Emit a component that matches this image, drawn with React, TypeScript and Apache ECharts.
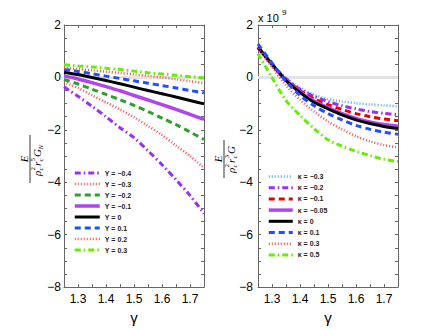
import React, { useEffect, useRef } from 'react';
import * as echarts from 'echarts';

// x values (gamma)
const gammaValues = [1.25, 1.3, 1.35, 1.4, 1.45, 1.5, 1.55, 1.6, 1.65, 1.7, 1.75];
const xTickLabels = [1.3, 1.4, 1.5, 1.6, 1.7];
const xTickMarks = [1.25, 1.3, 1.35, 1.4, 1.45, 1.5, 1.55, 1.6, 1.65, 1.7, 1.75];

// Left panel: E / (rho_c^2 r_c^5 G_N) for several Upsilon
const upsilonNames = ['Υ = −0.4', 'Υ = −0.3', 'Υ = −0.2', 'Υ = −0.1', 'Υ = 0', 'Υ = 0.1', 'Υ = 0.2', 'Υ = 0.3'];
const upsM04 = [-0.36, -0.72, -1.1, -1.5, -1.92, -2.3, -2.8, -3.33, -3.9, -4.5, -5.2];
const upsM03 = [-0.18, -0.4, -0.68, -0.95, -1.22, -1.52, -1.85, -2.2, -2.6, -3.0, -3.45];
const upsM02 = [-0.08, -0.25, -0.45, -0.65, -0.85, -1.07, -1.3, -1.55, -1.8, -2.08, -2.37];
const upsM01 = [0.06, -0.06, -0.2, -0.35, -0.51, -0.69, -0.86, -1.04, -1.22, -1.41, -1.6];
const ups00 = [0.2, 0.11, 0.0, -0.12, -0.24, -0.37, -0.5, -0.62, -0.75, -0.88, -1.01];
const ups01 = [0.3, 0.23, 0.14, 0.05, -0.04, -0.13, -0.22, -0.31, -0.4, -0.5, -0.59];
const ups02 = [0.36, 0.32, 0.27, 0.22, 0.17, 0.12, 0.06, 0.0, -0.07, -0.14, -0.22];
const ups03 = [0.48, 0.44, 0.4, 0.35, 0.3, 0.24, 0.18, 0.13, 0.08, 0.03, -0.02];
const leftValues = [upsM04, upsM03, upsM02, upsM01, ups00, ups01, ups02, ups03];

// Right panel: E / (rho_c^2 r_c^3 G) in units of 1e9 for several kappa
const kappaNames = ['κ = −0.3', 'κ = −0.2', 'κ = −0.1', 'κ = −0.05', 'κ = 0', 'κ = 0.1', 'κ = 0.3', 'κ = 0.5'];
const kapM03 = [1.1, 0.5, -0.02, -0.4, -0.65, -0.83, -0.92, -0.98, -1.03, -1.07, -1.1];
const kapM02 = [1.12, 0.5, -0.05, -0.45, -0.72, -0.92, -1.08, -1.2, -1.3, -1.37, -1.42];
const kapM01 = [1.15, 0.5, -0.08, -0.5, -0.82, -1.04, -1.22, -1.38, -1.5, -1.59, -1.65];
const kapM005 = [1.15, 0.5, -0.1, -0.55, -0.9, -1.15, -1.38, -1.56, -1.7, -1.8, -1.86];
const kap00 = [1.15, 0.5, -0.12, -0.58, -0.95, -1.2, -1.43, -1.62, -1.76, -1.87, -1.95];
const kap01 = [1.27, 0.55, -0.15, -0.68, -1.08, -1.38, -1.62, -1.83, -1.98, -2.09, -2.17];
const kap03 = [1.1, 0.4, -0.3, -0.85, -1.3, -1.68, -1.98, -2.24, -2.44, -2.58, -2.67];
const kap05 = [0.9, 0.0, -0.88, -1.45, -1.95, -2.38, -2.62, -2.82, -2.98, -3.12, -3.21];
const rightValues = [kapM03, kapM02, kapM01, kapM005, kap00, kap01, kap03, kap05];

const zeroLine = [0, 0];
const zeroX = [1.25, 1.75];

const DASHDOT = [6, 3, 1.5, 3];
const DASHED = [6, 4];
const DOTTED = [1, 2];

const leftStyles = [
  { color: '#9b30f0', width: 3, type: DASHDOT },
  { color: '#ff4d4d', width: 2.5, type: DOTTED },
  { color: '#2ca02c', width: 3, type: DASHED },
  { color: '#b044f0', width: 3.5, type: 'solid' },
  { color: '#000000', width: 3, type: 'solid' },
  { color: '#1f4fff', width: 3, type: DASHED },
  { color: '#ff4d4d', width: 2.5, type: DOTTED },
  { color: '#66ee00', width: 3, type: DASHDOT },
];
const rightStyles = [
  { color: '#55aaff', width: 2.5, type: DOTTED },
  { color: '#9b30f0', width: 3, type: DASHDOT },
  { color: '#e80000', width: 3, type: DASHED },
  { color: '#b044f0', width: 3.5, type: 'solid' },
  { color: '#000000', width: 3, type: 'solid' },
  { color: '#1f4fff', width: 3, type: DASHED },
  { color: '#ff4d4d', width: 2.5, type: DOTTED },
  { color: '#66ee00', width: 3, type: DASHDOT },
];

const SANS = 'Liberation Sans, Arial, sans-serif';
const SERIF = 'Liberation Serif, Times New Roman, serif';
const AXIS_COLOR = '#666';

const fmtY = (v: number) => (v < 0 ? '−' + Math.abs(v) : String(v));

function xAxisBottom(gridIndex: number) {
  return {
    type: 'value', gridIndex, min: 1.25, max: 1.75, position: 'bottom',
    axisLine: { show: true, onZero: false, lineStyle: { color: AXIS_COLOR, width: 1 } },
    axisTick: { show: true, inside: true, length: 3, customValues: xTickMarks, lineStyle: { color: AXIS_COLOR } },
    axisLabel: { customValues: xTickLabels, formatter: (v: number) => v.toFixed(1), fontSize: 12, color: '#000', fontFamily: SANS, margin: 6 },
    splitLine: { show: false },
    name: 'γ', nameLocation: 'middle', nameGap: 17,
    nameTextStyle: { fontSize: 15, color: '#000', fontFamily: SANS },
  };
}
function xAxisTop(gridIndex: number) {
  return {
    type: 'value', gridIndex, min: 1.25, max: 1.75, position: 'top',
    axisLine: { show: true, onZero: false, lineStyle: { color: AXIS_COLOR, width: 1 } },
    axisTick: { show: true, inside: true, length: 3, customValues: xTickMarks, lineStyle: { color: AXIS_COLOR } },
    axisLabel: { show: false },
    splitLine: { show: false },
  };
}
function yAxisLeft(gridIndex: number, margin: number) {
  return {
    type: 'value', gridIndex, min: -8, max: 2, interval: 2, position: 'left',
    axisLine: { show: true, onZero: false, lineStyle: { color: AXIS_COLOR, width: 1 } },
    axisTick: { show: true, inside: true, length: 3, lineStyle: { color: AXIS_COLOR } },
    minorTick: { show: true, splitNumber: 4, length: 3, lineStyle: { color: AXIS_COLOR } },
    axisLabel: { formatter: fmtY, fontSize: 12, color: '#000', fontFamily: SANS, margin },
    splitLine: { show: false },
  };
}
function yAxisRight(gridIndex: number) {
  return {
    type: 'value', gridIndex, min: -8, max: 2, interval: 2, position: 'right',
    axisLine: { show: true, onZero: false, lineStyle: { color: AXIS_COLOR, width: 1 } },
    axisTick: { show: true, inside: true, length: 3, lineStyle: { color: AXIS_COLOR } },
    minorTick: { show: true, splitNumber: 4, length: 3, lineStyle: { color: AXIS_COLOR } },
    axisLabel: { show: false },
    splitLine: { show: false },
  };
}

function makeSeries(name: string, vals: number[], st: any, xi: number, yi: number) {
  return {
    name, type: 'line', xAxisIndex: xi, yAxisIndex: yi,
    data: gammaValues.map((g, i) => [g, vals[i]]),
    symbol: 'none', smooth: 0.3,
    lineStyle: { color: st.color, width: st.width, type: st.type, cap: 'butt' },
    itemStyle: { color: st.color },
    z: 3,
  };
}

function zeroSeries(xi: number, yi: number) {
  return {
    name: 'zero', type: 'line', xAxisIndex: xi, yAxisIndex: yi,
    data: zeroX.map((x, i) => [x, zeroLine[i]]),
    symbol: 'none', silent: true,
    lineStyle: { color: '#e3e3e3', width: 3 },
    z: 2,
  };
}

const txt = (x: number, y: number, text: string, size: number, italic = true) => ({
  type: 'text', x, y,
  style: {
    text, fill: '#000', fontSize: size, fontFamily: SERIF, fontStyle: italic ? 'italic' : 'normal',
    textAlign: 'left', textVerticalAlign: 'middle',
  },
});

function fractionLabel(cx: number, cy: number, half: number, parts: any[]) {
  return {
    type: 'group', x: cx, y: cy, rotation: Math.PI / 2,
    children: [
      { type: 'text', x: 0, y: -6, style: { text: 'E', fill: '#000', fontSize: 11, fontFamily: SERIF, fontStyle: 'italic', textAlign: 'center', textVerticalAlign: 'middle' } },
      { type: 'line', shape: { x1: -half, y1: 0, x2: half, y2: 0 }, style: { stroke: '#000', lineWidth: 0.8 } },
      ...parts,
    ],
  };
}

export default function App() {
  const ref = useRef<HTMLDivElement>(null);
  useEffect(() => {
    if (!ref.current) return;
    const chart = echarts.init(ref.current, null, { renderer: 'svg' });
    const series: any[] = [zeroSeries(0, 0), zeroSeries(2, 2)];
    upsilonNames.forEach((n, i) => series.push(makeSeries(n, leftValues[i], leftStyles[i], 0, 0)));
    kappaNames.forEach((n, i) => series.push(makeSeries(n, rightValues[i], rightStyles[i], 2, 2)));

    const legendText = { fontSize: 7, fontWeight: 'bold', fontFamily: SANS, color: '#222', lineHeight: 8 };
    const hiddenSymbol = { color: 'transparent', borderColor: 'transparent', borderWidth: 0, opacity: 0 };
    const legendLine = { width: 'inherit', type: 'inherit', color: 'inherit' };

    const leftDen = [
      txt(-17, 7, 'ρ', 11), txt(-11.5, 3, '2', 7, false), txt(-11.5, 10.5, 'c', 7),
      txt(-7, 7, 'r', 11), txt(-2.5, 3, '5', 7, false), txt(-2.5, 10.5, 'c', 7),
      txt(2, 7, 'G', 11), txt(9.5, 10.5, 'N', 7),
    ];
    const rightDen = [
      txt(-14, 7, 'ρ', 11), txt(-8.5, 3, '2', 7, false), txt(-8.5, 10.5, 'c', 7),
      txt(-4, 7, 'r', 11), txt(0.5, 3, '3', 7, false), txt(0.5, 10.5, 'c', 7),
      txt(5, 7, 'G', 11),
    ];

    chart.setOption({
      animation: false,
      backgroundColor: '#fff',
      grid: [
        { left: 64, top: 25, width: 140, height: 269 },
        { left: 258, top: 25, width: 140, height: 269 },
      ],
      xAxis: [xAxisBottom(0), xAxisTop(0), xAxisBottom(1), xAxisTop(1)],
      yAxis: [yAxisLeft(0, 3), yAxisRight(0), yAxisLeft(1, 5), yAxisRight(1)],
      legend: [
        {
          data: upsilonNames, orient: 'vertical', left: 73, top: 169,
          itemWidth: 25, itemHeight: 8, itemGap: 3, padding: 0,
          itemStyle: hiddenSymbol, lineStyle: legendLine,
          textStyle: legendText, selectedMode: false,
        },
        {
          data: kappaNames, orient: 'vertical', left: 267, top: 172.5,
          itemWidth: 24, itemHeight: 8, itemGap: 3.2, padding: 0,
          itemStyle: hiddenSymbol, lineStyle: legendLine,
          textStyle: legendText, selectedMode: false,
        },
      ],
      graphic: [
        fractionLabel(30, 159, 24, leftDen),
        fractionLabel(224, 159, 19, rightDen),
        { type: 'text', x: 258, y: 18, style: { text: 'x 10', fill: '#000', fontSize: 11, fontFamily: SANS, textAlign: 'left', textVerticalAlign: 'middle' } },
        { type: 'text', x: 282, y: 12, style: { text: '9', fill: '#000', fontSize: 8, fontFamily: SANS, textAlign: 'left', textVerticalAlign: 'middle' } },
      ],
      series,
    });
    return () => chart.dispose();
  }, []);
  return <div ref={ref} style={{ width: 439, height: 330, position: 'absolute', left: 0, top: 0 }} />;
}
